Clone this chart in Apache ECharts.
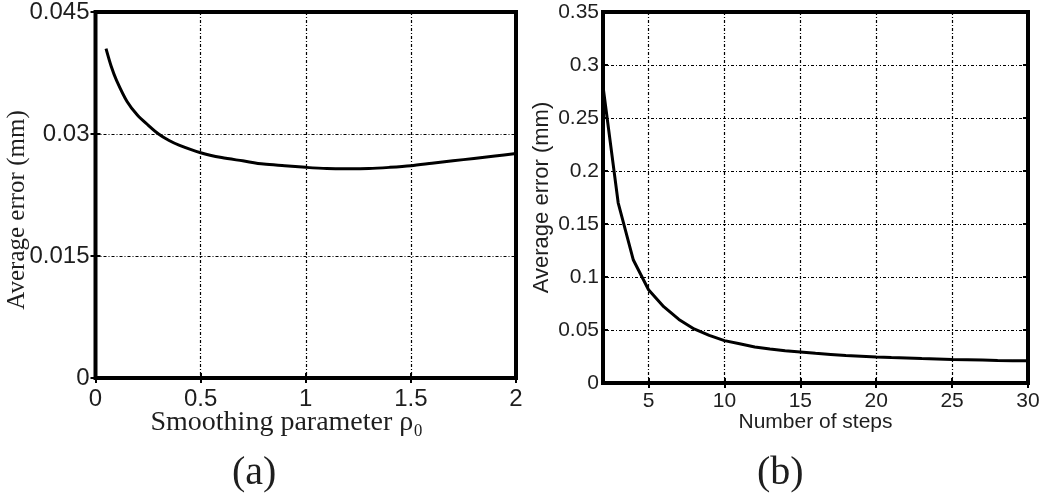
<!DOCTYPE html>
<html>
<head>
<meta charset="utf-8">
<script src="https://cdn.jsdelivr.net/npm/echarts@6/dist/echarts.min.js"></script>
<style>html,body{margin:0;padding:0;background:#fff;}#c{width:1050px;height:495px;}</style>
</head>
<body>
<div id="c"></div>
<script>
// (a) Smoothing parameter vs average error
const rhoValues = [0.05, 0.075, 0.1, 0.15, 0.2, 0.25, 0.3, 0.35, 0.4, 0.5, 0.6, 0.7, 0.8, 0.9, 1.0, 1.1, 1.2, 1.3, 1.4, 1.5, 1.6, 1.7, 1.8, 1.9, 2.0];
const errorA =    [0.0405, 0.0383, 0.0366, 0.0340, 0.0323, 0.0311, 0.0300, 0.0292, 0.0286, 0.0277, 0.0271, 0.0267, 0.0263, 0.0261, 0.0259, 0.02575, 0.02572, 0.02575, 0.0259, 0.0261, 0.0264, 0.0267, 0.0270, 0.0273, 0.0276];
// (b) Number of steps vs average error
const steps =  [2, 3, 4, 5, 6, 7, 8, 9, 10, 11, 12, 13, 14, 15, 16, 17, 18, 19, 20, 21, 22, 23, 24, 25, 26, 27, 28, 29, 30];
const errorB = [0.28, 0.17, 0.116, 0.088, 0.072, 0.060, 0.051, 0.045, 0.040, 0.037, 0.034, 0.032, 0.0305, 0.0293, 0.028, 0.027, 0.026, 0.0253, 0.0246, 0.024, 0.0235, 0.023, 0.0226, 0.0222, 0.0219, 0.0216, 0.0213, 0.0211, 0.0209];
const stepTicks = [5, 10, 15, 20, 25, 30];

const chart = echarts.init(document.getElementById('c'), null, {renderer: 'canvas'});
const txt = '#1e1e1e';
const sans = 'Liberation Sans, Arial, sans-serif';
const serif = 'Liberation Serif, Times New Roman, serif';
const dotted = {show: true, lineStyle: {color: '#000', width: 1.2, type: [3, 2, 1, 2]}};
const tickIn = {show: true, inside: true, length: 5, lineStyle: {color: '#000', width: 2}};

chart.setOption({
  animation: false,
  backgroundColor: '#fff',
  grid: [
    {left: 95.5, right: 534, top: 9.5, bottom: 117, show: true, borderColor: '#000', borderWidth: 4, backgroundColor: 'transparent'},
    {left: 603, right: 22, top: 12, bottom: 112, show: true, borderColor: '#000', borderWidth: 4, backgroundColor: 'transparent'}
  ],
  xAxis: [
    {gridIndex: 0, type: 'value', min: 0, max: 2, interval: 0.5, position: 'bottom',
     axisLine: {show: false}, axisTick: tickIn, splitLine: dotted,
     axisLabel: {color: txt, fontFamily: sans, fontSize: 24, margin: 9},
     name: 'Smoothing parameter \u03c1\u2080', nameLocation: 'middle', nameGap: 31, nameMoveOverlap: false,
     nameTextStyle: {color: txt, fontFamily: serif, fontSize: 28, padding: [0, 38, 0, 0]}},
    {gridIndex: 0, type: 'value', min: 0, max: 2, interval: 0.5, position: 'top',
     axisLine: {show: false}, axisTick: tickIn, splitLine: {show: false}, axisLabel: {show: false}},
    {gridIndex: 1, type: 'value', min: 2, max: 30, position: 'bottom',
     axisLine: {show: false},
     axisTick: Object.assign({customValues: stepTicks}, tickIn),
     splitLine: dotted,
     axisLabel: {customValues: stepTicks, color: txt, fontFamily: sans, fontSize: 21, margin: 8},
     name: 'Number of steps', nameLocation: 'middle', nameGap: 29, nameMoveOverlap: false,
     nameTextStyle: {color: txt, fontFamily: sans, fontSize: 21}},
    {gridIndex: 1, type: 'value', min: 2, max: 30, position: 'top',
     axisLine: {show: false}, axisTick: Object.assign({customValues: stepTicks}, tickIn),
     splitLine: {show: false}, axisLabel: {show: false}}
  ],
  yAxis: [
    {gridIndex: 0, type: 'value', min: 0, max: 0.045, interval: 0.015, position: 'left',
     axisLine: {show: false}, axisTick: tickIn, splitLine: dotted,
     axisLabel: {color: txt, fontFamily: sans, fontSize: 24, margin: 6},
     name: 'Average error (mm)', nameLocation: 'middle', nameGap: 66, nameMoveOverlap: false,
     nameTextStyle: {color: txt, fontFamily: serif, fontSize: 25, padding: [0, 30, 0, 0]}},
    {gridIndex: 0, type: 'value', min: 0, max: 0.045, interval: 0.015, position: 'right',
     axisLine: {show: false}, axisTick: tickIn, splitLine: {show: false}, axisLabel: {show: false}},
    {gridIndex: 1, type: 'value', min: 0, max: 0.35, interval: 0.05, position: 'left',
     axisLine: {show: false}, axisTick: tickIn, splitLine: dotted,
     axisLabel: {color: txt, fontFamily: sans, fontSize: 21, margin: 4},
     name: 'Average error (mm)', nameLocation: 'middle', nameGap: 50, nameMoveOverlap: false,
     nameTextStyle: {color: txt, fontFamily: sans, fontSize: 22}},
    {gridIndex: 1, type: 'value', min: 0, max: 0.35, interval: 0.05, position: 'right',
     axisLine: {show: false}, axisTick: tickIn, splitLine: {show: false}, axisLabel: {show: false}}
  ],
  graphic: [
    {type: 'text', left: 232, top: 453, style: {text: '(a)', fill: txt, font: '40px ' + serif}},
    {type: 'text', left: 757, top: 453, style: {text: '(b)', fill: txt, font: '40px ' + serif}}
  ],
  series: [
    {type: 'line', xAxisIndex: 0, yAxisIndex: 0, data: rhoValues.map((x, i) => [x, errorA[i]]),
     showSymbol: false, smooth: 0.3, lineStyle: {color: '#000', width: 3}},
    {type: 'line', xAxisIndex: 2, yAxisIndex: 2, data: steps.map((x, i) => [x, errorB[i]]),
     showSymbol: false, smooth: false, lineStyle: {color: '#000', width: 3}}
  ]
});
</script>
</body>
</html>
